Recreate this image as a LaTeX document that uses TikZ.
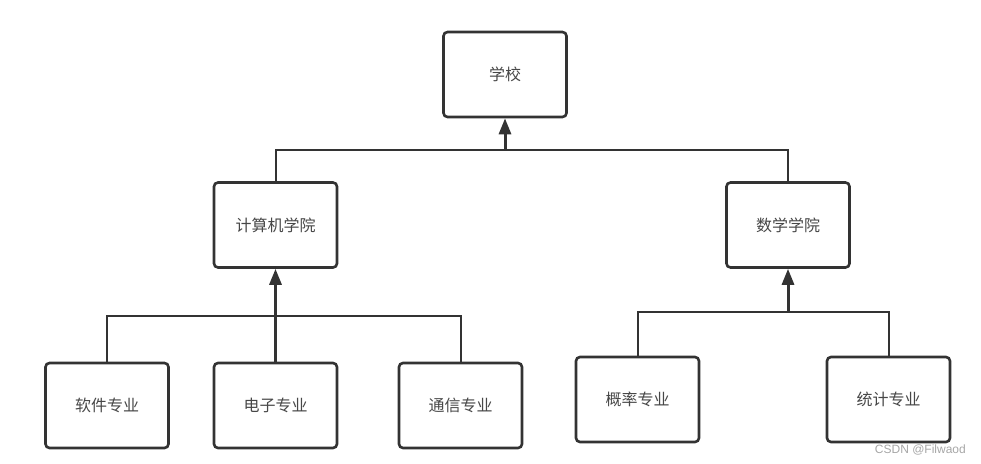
\documentclass[tikz,border=0pt]{standalone}
\usepackage{fontspec}
\setmainfont{Noto Sans CJK SC}
\newfontfamily\wmfont{Liberation Sans}
\usetikzlibrary{arrows.meta}
\definecolor{ink}{HTML}{333333}
\begin{document}
\begin{tikzpicture}[x=1pt,y=-1pt,
  box/.style={draw=ink, line width=2.6pt, rounded corners=4pt, fill=white,
    minimum width=123pt, minimum height=85pt, inner sep=0pt,
    font=\fontsize{16}{18}\selectfont, text=ink!90},
  link/.style={draw=ink, line width=2pt},
  arr/.style={draw=ink, line width=3pt, -{Triangle[length=16pt,width=12pt]}}]
\useasboundingbox (0,0) rectangle (981,463);
\node[box] (school) at (505,74.5) {学校};
\node[box] (cs) at (275.5,225) {计算机学院};
\node[box] (math) at (788,225) {数学学院};
\node[box] (soft) at (107,405.5) {软件专业};
\node[box] (elec) at (275.5,405.5) {电子专业};
\node[box] (comm) at (460.5,405.5) {通信专业};
\node[box] (prob) at (637.5,399.5) {概率专业};
\node[box] (stat) at (888.5,399.5) {统计专业};
\coordinate (bus0) at (505,150);
\coordinate (bus1) at (275.5,316);
\coordinate (bus2) at (788,312);
% top level
\draw[link] (cs.north) |- (bus0);
\draw[link] (math.north) |- (bus0);
\draw[arr] (bus0) -- (school.south);
% computer college
\draw[link] (soft.north) |- (bus1);
\draw[link] (comm.north) |- (bus1);
\draw[arr] (elec.north) -- (cs.south);
% math college
\draw[link] (prob.north) |- (bus2);
\draw[link] (stat.north) |- (bus2);
\draw[arr] (bus2) -- (math.south);
\node[anchor=south east, inner sep=0pt, text=gray!70, font=\wmfont\fontsize{12}{14}\selectfont] (wm) at (966,455) {CSDN @Filwaod};
\end{tikzpicture}
\end{document}
